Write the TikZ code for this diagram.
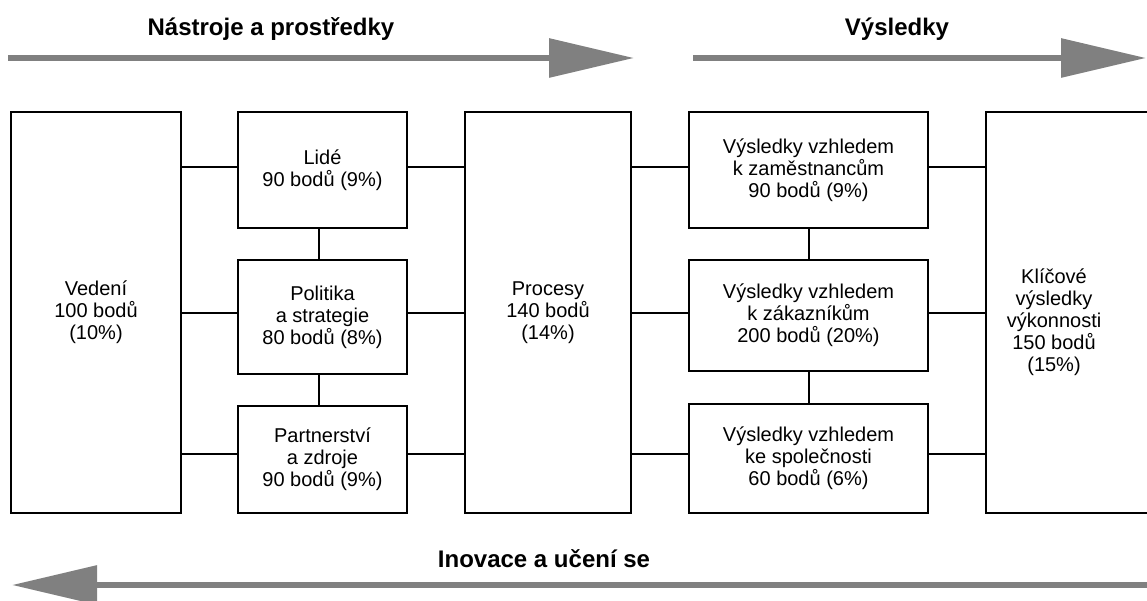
\documentclass[tikz,border=0pt]{standalone}
\usepackage{fontspec}
\setmainfont{Liberation Sans}
\usetikzlibrary{arrows.meta}
\definecolor{arrgray}{RGB}{128,128,128}
\begin{document}
\begin{tikzpicture}[x=1pt,y=-1pt,
  box/.style={draw,line width=2pt,inner sep=0pt,align=center,font=\fontsize{20}{22}\selectfont},
  boxtext/.style={inner sep=0pt,align=center,font=\fontsize{20}{22}\selectfont},
  conn/.style={line width=2pt},
  bigarrow/.style={draw=arrgray,line width=6pt,-{Triangle[length=85pt,width=38pt,fill=arrgray,color=arrgray]}},
  title/.style={font=\bfseries\fontsize{24}{28}\selectfont,anchor=base,inner sep=0pt}]
\useasboundingbox (0,0) rectangle (1147,601);

% titles and big arrows
\node[title] (t1) at (271,36) {Nástroje a prostředky};
\node[title] (t2) at (897,36) {Výsledky};
\node[title] (t3) at (544,567) {Inovace a učení se};
\coordinate (a1s) at (8,58);   \coordinate (a1e) at (634,58);
\coordinate (a2s) at (693,58); \coordinate (a2e) at (1146,58);
\coordinate (a3s) at (1150,585); \coordinate (a3e) at (12,585);
\draw[bigarrow] (a1s) -- (a1e);
\draw[bigarrow] (a2s) -- (a2e);
\draw[bigarrow] (a3s) -- (a3e);

% boxes
\node[box,minimum width=170pt,minimum height=401pt] (ved) at (96,312.5) {Vedení\\100 bodů\\(10\%)};
\node[box,minimum width=169pt,minimum height=116pt] (lide) at (322.5,170) {Lidé\\90 bodů (9\%)};
\node[box,minimum width=169pt,minimum height=114pt] (pol) at (322.5,317) {Politika\\a strategie\\80 bodů (8\%)};
\node[box,minimum width=169pt,minimum height=107pt] (part) at (322.5,459.5) {Partnerství\\a zdroje\\90 bodů (9\%)};
\node[box,minimum width=166pt,minimum height=401pt] (proc) at (548,312.5) {Procesy\\140 bodů\\(14\%)};
\node[box,minimum width=239pt,minimum height=116pt] (zam) at (808.5,170) {Výsledky vzhledem\\k zaměstnancům\\90 bodů (9\%)};
\node[box,minimum width=239pt,minimum height=111pt] (zak) at (808.5,315.5) {Výsledky vzhledem\\k zákazníkům\\200 bodů (20\%)};
\node[box,minimum width=239pt,minimum height=109pt] (spol) at (808.5,458.5) {Výsledky vzhledem\\ke společnosti\\60 bodů (6\%)};
\node[box,minimum width=164pt,minimum height=401pt] (klic) at (1068,312.5) {};
\node[boxtext] (klictext) at (1054,322) {Klíčové\\výsledky\\výkonnosti\\150 bodů\\(15\%)};

% connector rows
\coordinate (r1) at ([yshift=3pt]lide.west);
\coordinate (r2) at (ved.east);
\coordinate (r3) at ([yshift=5.5pt]part.west);
\draw[conn] (r1 -| ved.east) -- (r1 -| lide.west);
\draw[conn] (r1 -| lide.east) -- (r1 -| proc.west);
\draw[conn] (r1 -| proc.east) -- (r1 -| zam.west);
\draw[conn] (r1 -| zam.east) -- (r1 -| klic.west);
\draw[conn] (r2 -| ved.east) -- (r2 -| pol.west);
\draw[conn] (r2 -| pol.east) -- (r2 -| proc.west);
\draw[conn] (r2 -| proc.east) -- (r2 -| zak.west);
\draw[conn] (r2 -| zak.east) -- (r2 -| klic.west);
\draw[conn] (r3 -| ved.east) -- (r3 -| part.west);
\draw[conn] (r3 -| part.east) -- (r3 -| proc.west);
\draw[conn] (r3 -| proc.east) -- (r3 -| spol.west);
\draw[conn] (r3 -| spol.east) -- (r3 -| klic.west);

% vertical connectors
\draw[conn] ([xshift=-3.5pt]lide.south) -- ([xshift=-3.5pt]pol.north);
\draw[conn] ([xshift=-3.5pt]pol.south) -- ([xshift=-3.5pt]part.north);
\draw[conn] (zam.south) -- (zak.north);
\draw[conn] (zak.south) -- (spol.north);
\end{tikzpicture}
\end{document}
